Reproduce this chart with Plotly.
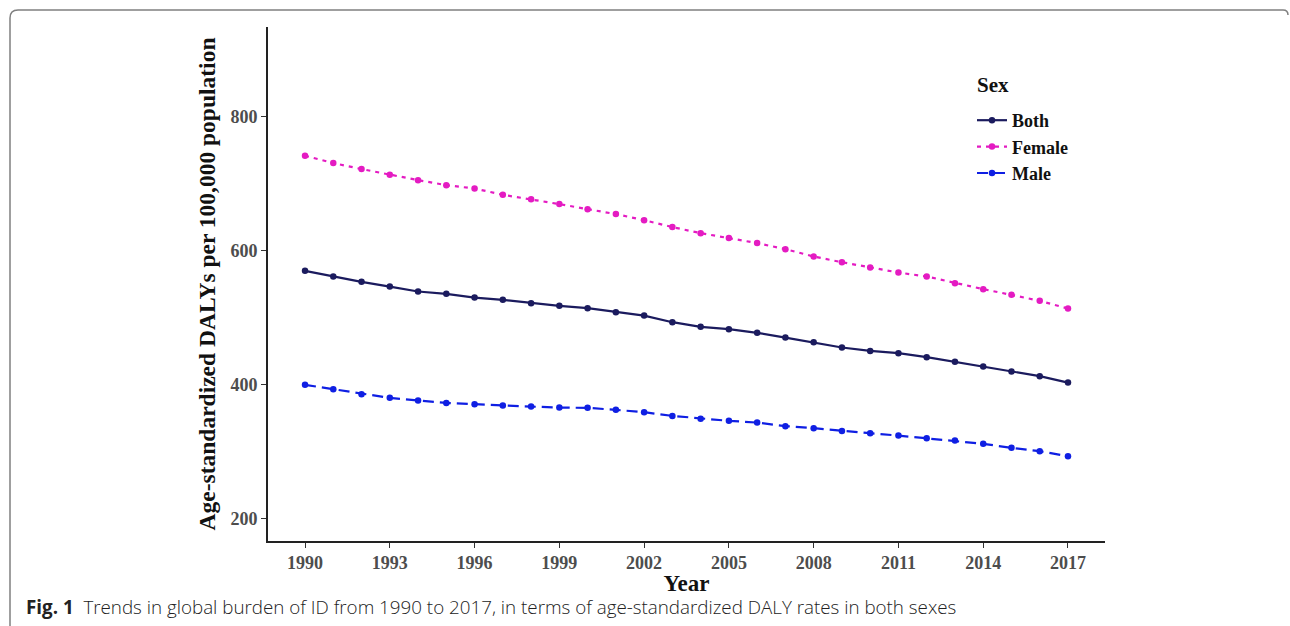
import plotly.graph_objects as go

# Age-standardized DALY rates per 100,000 population, 1990-2017
years = list(range(1990, 2018))

both = [570.1, 561.7, 553.7, 546.7, 539.3, 535.8, 530.3, 526.9, 521.9, 517.9,
        514.4, 508.5, 503.4, 493.5, 486.6, 483.1, 477.6, 470.6, 463.4, 455.7,
        450.7, 447.3, 441.3, 434.3, 427.3, 419.9, 413.0, 403.4]

female = [741.8, 730.9, 722.0, 713.4, 705.5, 698.0, 693.0, 683.6, 676.9, 669.7,
          662.2, 654.8, 645.8, 635.4, 626.4, 619.0, 611.5, 602.5, 591.5, 583.0,
          575.0, 567.6, 561.7, 551.7, 542.8, 534.3, 525.4, 513.9]

male = [400.0, 393.5, 386.0, 380.6, 376.6, 373.1, 371.2, 369.1, 367.6, 366.1,
        365.7, 362.7, 359.2, 353.7, 349.6, 346.3, 343.7, 338.4, 335.4, 331.3,
        327.9, 324.3, 320.4, 316.9, 312.0, 306.0, 301.0, 293.6]

x_ticks = list(range(1990, 2018, 3))
y_ticks = [200, 400, 600, 800]

W, H = 1290, 626
L, R, T, B = 268, 185, 27, 85
PW, PH = W - L - R, H - T - B


def px(x):
    return (x - L) / PW


def py(y):
    return (H - B - y) / PH


serif = "Liberation Serif, Times New Roman, serif"

fig = go.Figure()

series = [
    ("Both", both, "#1b1b5e", "solid"),
    ("Female", female, "#e41bc2", "4px,5px"),
    ("Male", male, "#0f1fe3", "11px,6px"),
]
for name, vals, color, dash in series:
    fig.add_trace(go.Scatter(
        x=years, y=vals, name=name, mode="lines+markers",
        line=dict(color=color, width=2.2, dash=dash),
        marker=dict(color=color, size=6.5),
    ))

# Rounded outer frame around the figure and its caption
frame = (f"M {px(10)},{py(626)} L {px(10)},{py(18)} "
         f"Q {px(10)},{py(10)} {px(18)},{py(10)} "
         f"L {px(1283)},{py(10)} Q {px(1288)},{py(10)} {px(1288)},{py(15)}")

fig.update_layout(
    width=W, height=H,
    margin=dict(l=L, r=R, t=T, b=B),
    paper_bgcolor="white", plot_bgcolor="white",
    showlegend=True,
    legend=dict(
        font=dict(family=serif, size=18, color="#111", weight="bold"),
        x=px(972), y=py(102), xanchor="left", yanchor="top",
        bgcolor="rgba(0,0,0,0)", itemwidth=30, tracegroupgap=0,
    ),
    xaxis=dict(
        range=[1988.69, 2018.31], tickmode="array", tickvals=x_ticks,
        ticktext=[str(v) for v in x_ticks],
        showgrid=False, zeroline=False,
        showline=True, linecolor="#222", linewidth=1.6,
        ticks="outside", ticklen=5, tickwidth=1.4, tickcolor="#333",
        tickfont=dict(family=serif, size=18, color="#4d4d4d", weight="bold"),
        title=dict(text="Year", font=dict(family=serif, size=23, color="#111", weight="bold"),
                   standoff=2),
    ),
    yaxis=dict(
        range=[167, 934], tickmode="array", tickvals=y_ticks,
        ticktext=[str(v) for v in y_ticks],
        showgrid=False, zeroline=False,
        showline=True, linecolor="#222", linewidth=1.6,
        ticks="outside", ticklen=5, tickwidth=1.4, tickcolor="#333",
        tickfont=dict(family=serif, size=18, color="#4d4d4d", weight="bold"),
        title=dict(text="Age-standardized DALYs per 100,000 population",
                   font=dict(family=serif, size=23.5, color="#111", weight="bold"),
                   standoff=8),
    ),
    shapes=[dict(type="path", path=frame, xref="paper", yref="paper",
                 line=dict(color="#808080", width=1.5), layer="below")],
    annotations=[
        dict(text="<b>Sex</b>", x=px(975), y=py(85), xref="paper", yref="paper",
             xanchor="left", yanchor="middle", showarrow=False,
             font=dict(family=serif, size=21, color="#111")),
        dict(text="<b>Fig. 1</b>  Trends in global burden of ID from 1990 to 2017, "
                  "in terms of age-standardized DALY rates in both sexes",
             x=px(24), y=py(607), xref="paper", yref="paper",
             xanchor="left", yanchor="middle", showarrow=False,
             font=dict(family="Open Sans, Noto Sans, sans-serif",
                       size=18.8, color="#222", weight=300)),
    ],
)

fig.write_html("out.html")
